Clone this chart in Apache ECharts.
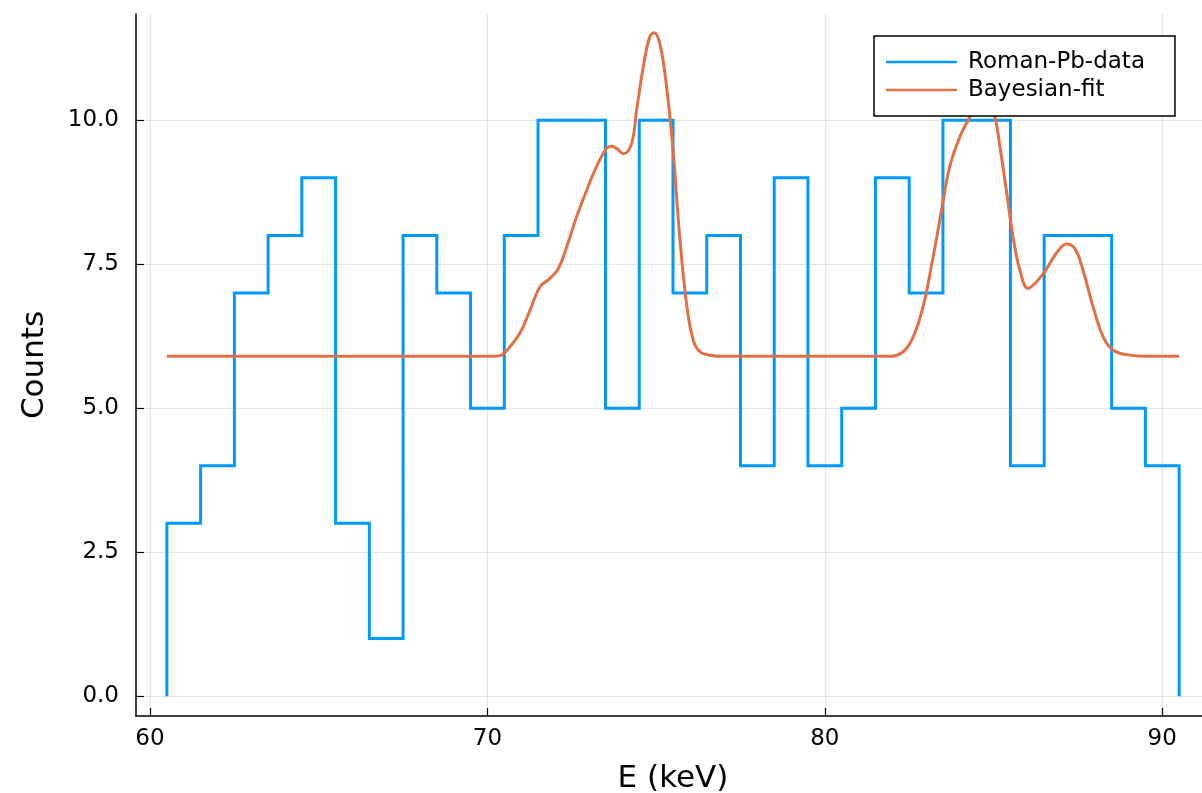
<!DOCTYPE html>
<html>
<head>
<meta charset="utf-8">
<script src="https://cdn.jsdelivr.net/npm/echarts@6/dist/echarts.min.js"></script>
<style>
html,body{margin:0;padding:0;background:#fff;overflow:hidden;}
#chart{width:1202px;height:793px;}
</style>
</head>
<body>
<div id="chart"></div>
<script>
// ---- data ----
const seriesNames = ['Roman-Pb-data', 'Bayesian-fit'];
const binStart = 60.5;
const binWidth = 1;
const counts = [3, 4, 7, 8, 9, 3, 1, 8, 7, 5, 8, 10, 10, 5, 10, 7, 8, 4, 9, 4, 5, 9, 7, 10, 10, 4, 8, 8, 5, 4];

const fitE = [60.5, 70.0, 70.37, 70.57, 70.96, 71.26, 71.56, 71.85, 72.10, 72.35, 72.64, 72.94, 73.23, 73.53, 73.68, 73.85, 74.03, 74.27, 74.42, 74.62, 74.81, 74.94, 75.11, 75.31, 75.51, 75.70, 75.90, 76.10, 76.30, 76.59, 77.0, 81.93, 82.32, 82.62, 82.91, 83.21, 83.46, 83.70, 84.00, 84.30, 84.52, 84.72, 84.90, 85.04, 85.19, 85.38, 85.58, 85.78, 86.02, 86.27, 86.57, 86.86, 87.16, 87.41, 87.65, 87.95, 88.25, 88.54, 88.94, 89.5, 90.5];
const fitCounts = [5.90, 5.90, 5.91, 6.00, 6.30, 6.70, 7.11, 7.25, 7.42, 7.80, 8.32, 8.78, 9.19, 9.51, 9.55, 9.50, 9.42, 9.59, 10.17, 10.93, 11.45, 11.52, 11.33, 10.58, 9.42, 7.97, 6.82, 6.18, 5.98, 5.92, 5.90, 5.90, 5.98, 6.24, 6.76, 7.63, 8.44, 9.19, 9.71, 10.06, 10.25, 10.33, 10.24, 10.06, 9.54, 8.78, 7.97, 7.40, 7.08, 7.19, 7.42, 7.69, 7.85, 7.77, 7.40, 6.76, 6.24, 6.01, 5.93, 5.90, 5.90];

const xTicks = [60, 70, 80, 90];
const yTicks = [0, 2.5, 5, 7.5, 10];
const xName = 'E (keV)';
const yName = 'Counts';

// ---- build series data ----
const stepData = [[binStart, 0]];
counts.forEach((c, i) => {
  const l = binStart + i * binWidth;
  stepData.push([l, c], [l + binWidth, c]);
});
stepData.push([binStart + counts.length * binWidth, 0]);
const fitData = fitE.map((e, i) => [e, fitCounts[i]]);

const FONT = 'DejaVu Sans';
const gridColor = 'rgba(0,0,0,0.1)';

const chart = echarts.init(document.getElementById('chart'), null, {renderer: 'canvas'});
chart.setOption({
  animation: false,
  backgroundColor: '#fff',
  grid: {left: 136, right: -8, top: 14, bottom: 77, containLabel: false, outerBoundsMode: 'none'},
  xAxis: {
    type: 'value', min: 59.585, max: 91.415,
    name: xName, nameLocation: 'middle', nameGap: 47,
    nameTextStyle: {fontFamily: FONT, fontSize: 31, color: '#000'},
    axisLine: {show: true, onZero: false, lineStyle: {color: '#000', width: 1.5}},
    axisTick: {show: true, inside: true, length: 8, customValues: xTicks, lineStyle: {color: '#000', width: 1.2}},
    axisLabel: {customValues: xTicks, margin: 12, fontFamily: FONT, fontSize: 23, color: '#000'},
    splitLine: {show: true, lineStyle: {color: gridColor, width: 1.2}}
  },
  yAxis: {
    type: 'value', min: -0.345, max: 11.845,
    name: yName, nameLocation: 'middle', nameGap: 86,
    nameTextStyle: {fontFamily: FONT, fontSize: 31, color: '#000'},
    axisLine: {show: true, onZero: false, lineStyle: {color: '#000', width: 1.5}},
    axisTick: {show: true, inside: true, length: 8, customValues: yTicks, lineStyle: {color: '#000', width: 1.2}},
    axisLabel: {customValues: yTicks, margin: 17, fontFamily: FONT, fontSize: 23, color: '#000',
      formatter: v => Number(v).toFixed(1)},
    splitLine: {show: true, lineStyle: {color: gridColor, width: 1.2}}
  },
  legend: {
    orient: 'vertical', left: 874, top: 36,
    padding: [12, 30, 12, 12],
    itemGap: 0, itemWidth: 71, itemHeight: 2.5,
    icon: 'rect',
    borderColor: '#000', borderWidth: 1.5, backgroundColor: '#fff',
    textStyle: {fontFamily: FONT, fontSize: 23, color: '#000', lineHeight: 28, padding: [0, 0, 0, 6]},
    data: seriesNames
  },
  series: [
    {
      name: seriesNames[0], type: 'line', data: stepData,
      symbol: 'none', smooth: false,
      lineStyle: {color: '#009AFA', width: 3, join: 'miter'},
      itemStyle: {color: '#009AFA'}, z: 2
    },
    {
      name: seriesNames[1], type: 'line', data: fitData,
      symbol: 'none', smooth: 0.4,
      lineStyle: {color: '#E36F47', width: 3},
      itemStyle: {color: '#E36F47'}, z: 3
    }
  ]
});
</script>
</body>
</html>
